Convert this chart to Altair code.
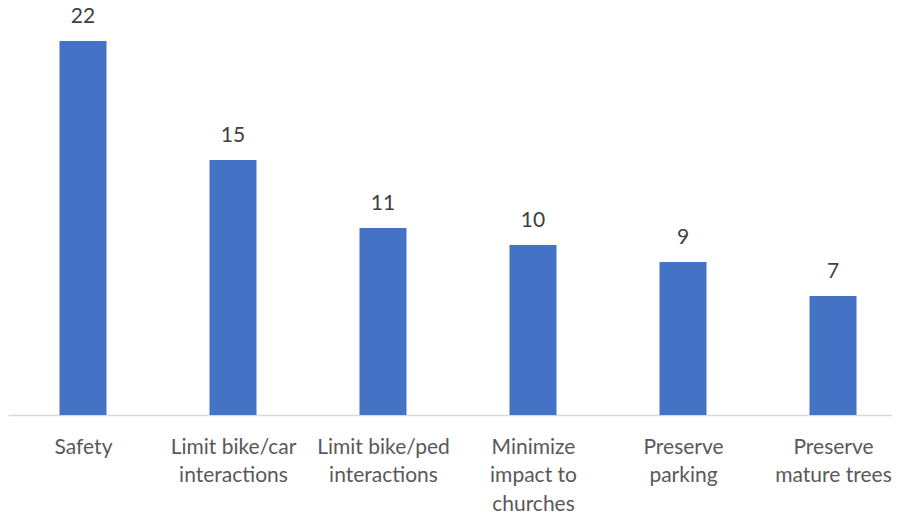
import altair as alt
import pandas as pd
import json

categories = ["Safety", "Limit bike/car interactions", "Limit bike/ped interactions",
              "Minimize impact to churches", "Preserve parking", "Preserve mature trees"]
values = [22, 15, 11, 10, 9, 7]
label_lines = [
    ["Safety"],
    ["Limit bike/car", "interactions"],
    ["Limit bike/ped", "interactions"],
    ["Minimize", "impact to", "churches"],
    ["Preserve", "parking"],
    ["Preserve", "mature trees"],
]

df = pd.DataFrame({"idx": list(range(len(categories))), "category": categories, "value": values})
label_expr = json.dumps(label_lines) + "[round(datum.value)]"

FONT = "Lato"
HALF = 0.1567  # half bar width in band units
W = 884

xscale = alt.Scale(domain=[-0.5, -0.5 + W / 150], nice=False, zero=False)
xaxis = alt.Axis(values=list(range(len(categories))), labelExpr=label_expr, labelFont=FONT,
                 labelFontSize=21, labelColor="#595959", labelLineHeight=28.5,
                 labelPadding=21, labelBaseline="top", labelAngle=0, ticks=False,
                 grid=False, domainColor="#D9D9D9", domainWidth=1.5, labelLimit=0,
                 labelOverlap=False, labelFlush=False)
y = alt.Y("value:Q", scale=alt.Scale(domain=[0, 23.7], nice=False), axis=None)

base = alt.Chart(df).transform_calculate(
    x0=f"datum.idx - {HALF}", x1=f"datum.idx + {HALF}")

bars = base.mark_bar(color="#4472C4").encode(
    x=alt.X("x0:Q", scale=xscale, axis=xaxis, title=None),
    x2="x1:Q", y=y, y2=alt.datum(0))
text = base.mark_text(baseline="alphabetic", dy=-18, font=FONT, fontSize=21,
                      color="#404040").encode(
    x=alt.X("idx:Q", scale=xscale), y=y, text="value:Q")

chart = (bars + text).properties(
    width=W, height=403,
    padding={"left": 0, "top": 4, "right": 0, "bottom": 98},
    autosize=alt.AutoSizeParams(type="none"),
).configure_view(stroke=None)

chart.save("out.html", embed_options={"renderer": "svg", "actions": False})
